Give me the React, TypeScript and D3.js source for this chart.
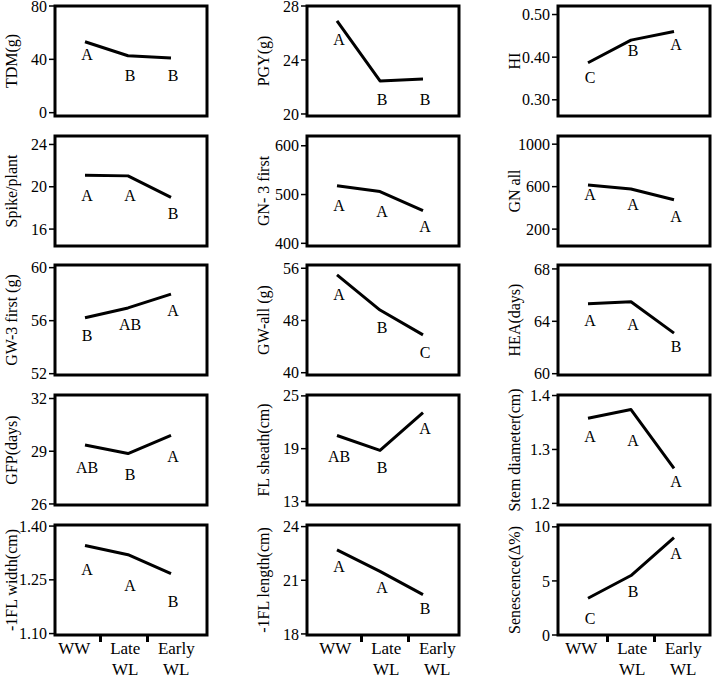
import React from "react";
import * as d3 from "d3";

const categories = ["WW", "Late WL", "Early WL"];
const categoryLines = [["WW"], ["Late", "WL"], ["Early", "WL"]];

const panelTitles = [
  "TDM(g)", "PGY(g)", "HI",
  "Spike/plant", "GN- 3 first", "GN all",
  "GW-3 first (g)", "GW-all (g)", "HEA(days)",
  "GFP(days)", "FL sheath(cm)", "Stem diameter(cm)",
  "-1FL width(cm)", "-1FL length(cm)", "Senescence(Δ%)",
];

const panelValues = [
  [53.2, 42.7, 41.0], [26.9, 22.45, 22.6], [0.387, 0.44, 0.46],
  [21.08, 21.03, 19.0], [518, 506, 467], [615, 578, 477],
  [56.22, 56.96, 58.0], [55.0, 49.6, 45.8], [65.35, 65.5, 63.1],
  [29.35, 28.87, 29.9], [20.5, 18.8, 23.1], [1.358, 1.374, 1.265],
  [1.346, 1.32, 1.267], [22.7, 21.5, 20.2], [3.4, 5.5, 9.0],
];

const panelLetters = [
  ["A", "B", "B"], ["A", "B", "B"], ["C", "B", "A"],
  ["A", "A", "B"], ["A", "A", "A"], ["A", "A", "A"],
  ["B", "AB", "A"], ["A", "B", "C"], ["A", "A", "B"],
  ["AB", "B", "A"], ["AB", "B", "A"], ["A", "A", "A"],
  ["A", "A", "B"], ["A", "A", "B"], ["C", "B", "A"],
];

// value at which each significance letter sits
const letterAnchors = [
  [43.8, 28.3, 28.3], [25.5, 21.1, 21.1], [0.353, 0.415, 0.431],
  [19.23, 19.23, 17.45], [478, 466, 435], [523, 437, 324],
  [54.9, 55.7, 56.8], [52.0, 47.0, 43.1], [64.05, 63.75, 62.1],
  [28.09, 27.68, 28.7], [18.08, 16.9, 21.25], [1.324, 1.316, 1.241],
  [1.278, 1.235, 1.191], [21.78, 20.6, 19.4], [1.53, 4.0, 7.56],
];

const yDomains = [
  [-2.5, 80], [19.85, 28], [0.262, 0.52],
  [14.4, 24.8], [394.5, 620], [41, 1077],
  [51.9, 60.2], [39.65, 56.5], [59.9, 68.3],
  [25.94, 32.2], [12.6, 25.1], [1.197, 1.401],
  [1.096, 1.403], [17.94, 24.09], [0, 10.17],
];

const yTickValues = [
  [0, 40, 80], [20, 24, 28], [0.3, 0.4, 0.5],
  [16, 20, 24], [400, 500, 600], [200, 600, 1000],
  [52, 56, 60], [40, 48, 56], [60, 64, 68],
  [26, 29, 32], [13, 19, 25], [1.2, 1.3, 1.4],
  [1.1, 1.25, 1.4], [18, 21, 24], [0, 5, 10],
];

const yTickLabels = [
  ["0", "40", "80"], ["20", "24", "28"], ["0.30", "0.40", "0.50"],
  ["16", "20", "24"], ["400", "500", "600"], ["200", "600", "1000"],
  ["52", "56", "60"], ["40", "48", "56"], ["60", "64", "68"],
  ["26", "29", "32"], ["13", "19", "25"], ["1.2", "1.3", "1.4"],
  ["1.10", "1.25", "1.40"], ["18", "21", "24"], ["0", "5", "10"],
];

const W = 713;
const H = 680;
const colLefts = [55, 307, 558];
const colShift = [-4, 5, 0];
const rowTops = [6, 136, 265, 395, 525];
const PW = 152;
const PH = 110;
const FONT = "'Liberation Serif', 'Times New Roman', serif";

export default function App() {
  const panels = panelTitles.map((title, i) => {
    const r = Math.floor(i / 3);
    const c = i % 3;
    const left = colLefts[c];
    const top = rowTops[r];
    const y = d3.scaleLinear().domain(yDomains[i]).range([top + PH, top]);
    const x = d3.scalePoint<string>().domain(categories).range([left + 30, left + 116]);
    const line = d3
      .line<number>()
      .x((_, k) => x(categories[k]) as number)
      .y((v) => y(v));
    const isBottom = r === rowTops.length - 1;
    const band = d3
      .scaleBand<string>()
      .domain(categories)
      .range([left + 2.5 + colShift[c], left + 143.5 + colShift[c]]);
    const labelX = d3
      .scalePoint<string>()
      .domain(categories)
      .range([left + 23.3 + colShift[c], left + 125.3 + colShift[c]]);
    return (
      <g key={i}>
        <rect x={left} y={top} width={PW} height={PH} fill="none" stroke="#000" strokeWidth={3} />
        {yTickValues[i].map((t, k) => (
          <g key={k}>
            <line x1={left - 6} x2={left} y1={y(t)} y2={y(t)} stroke="#000" strokeWidth={1.5} />
            <text
              x={left - 8}
              y={y(t)}
              dy="0.35em"
              textAnchor="end"
              fontSize={16}
              fontFamily={FONT}
            >
              {yTickLabels[i][k]}
            </text>
          </g>
        ))}
        <text
          transform={`translate(${left - 44},${top + PH / 2}) rotate(-90)`}
          dy="0.35em"
          textAnchor="middle"
          fontSize={16}
          fontFamily={FONT}
        >
          {title}
        </text>
        <path d={line(panelValues[i]) || ""} fill="none" stroke="#000" strokeWidth={3} strokeLinejoin="round" />
        {panelLetters[i].map((L, k) => (
          <text
            key={k}
            x={(x(categories[k]) as number) + 2}
            y={y(letterAnchors[i][k])}
            dy="0.35em"
            textAnchor="middle"
            fontSize={16}
            fontFamily={FONT}
          >
            {L}
          </text>
        ))}
        {isBottom && (
          <g>
            {categories.slice(1).map((cat) => (
              <line
                key={cat}
                x1={band(cat) as number}
                x2={band(cat) as number}
                y1={top + PH}
                y2={top + PH + 7}
                stroke="#000"
                strokeWidth={3}
              />
            ))}
            {categories.map((cat, k) => (
              <text key={cat} textAnchor="middle" fontSize={17} fontFamily={FONT}>
                {categoryLines[k].map((ln, j) => (
                  <tspan key={j} x={labelX(cat) as number} y={top + PH + 19 + j * 21}>
                    {ln}
                  </tspan>
                ))}
              </text>
            ))}
          </g>
        )}
      </g>
    );
  });

  return (
    <svg
      width={W}
      height={H}
      viewBox={`0 0 ${W} ${H}`}
      style={{ position: "absolute", left: 0, top: 0, background: "#fff" }}
    >
      {panels}
    </svg>
  );
}
